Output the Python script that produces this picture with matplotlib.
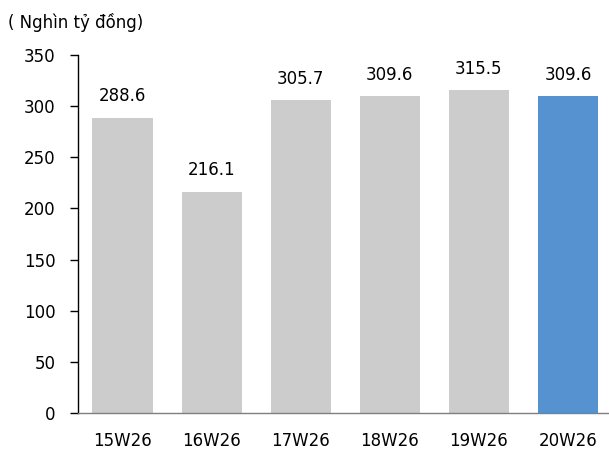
import matplotlib
matplotlib.use("Agg")
import matplotlib.pyplot as plt

categories = ["15W26", "16W26", "17W26", "18W26", "19W26", "20W26"]
values = [288.6, 216.1, 305.7, 309.6, 315.5, 309.6]
bar_colors = ["#cccccc"] * 5 + ["#5592cf"]
unit_label = "( Nghìn tỷ đồng)"
yticks = [0, 50, 100, 150, 200, 250, 300, 350]

plt.rcParams["font.family"] = ["DejaVu Sans"]
W, H = 609, 450
fig = plt.figure(figsize=(W / 100, H / 100), dpi=100)
left = 78 / W
right = 612.5 / W
bottom = (H - 413) / H
top = (H - 55) / H
ax = fig.add_axes([left, bottom, right - left, top - bottom])

x = list(range(len(categories)))
ax.bar(x, values, width=0.675, color=bar_colors, zorder=2)
ax.set_xlim(-0.5, len(categories) - 0.5)
ax.set_ylim(0, 350)
ax.set_yticks(yticks)
ax.set_xticks(x)
ax.set_xticklabels(categories, fontsize=12)
ax.tick_params(axis="y", labelsize=12, length=6, width=1, direction="out", pad=10, color="black")
ax.tick_params(axis="x", length=0, pad=14)
for s in ["top", "right"]:
    ax.spines[s].set_visible(False)
ax.spines["left"].set_color("black")
ax.spines["left"].set_linewidth(1)
ax.spines["bottom"].set_color("#7f7f7f")
ax.spines["bottom"].set_linewidth(1)

for xi, v in zip(x, values):
    ax.annotate(f"{v:.1f}", (xi, v), xytext=(0, 9), textcoords="offset points",
                ha="center", va="bottom", fontsize=12, color="black")

fig.text(8 / W, (H - 22) / H, unit_label, fontsize=12, ha="left", va="center")
fig.savefig("out.png", dpi=100)
